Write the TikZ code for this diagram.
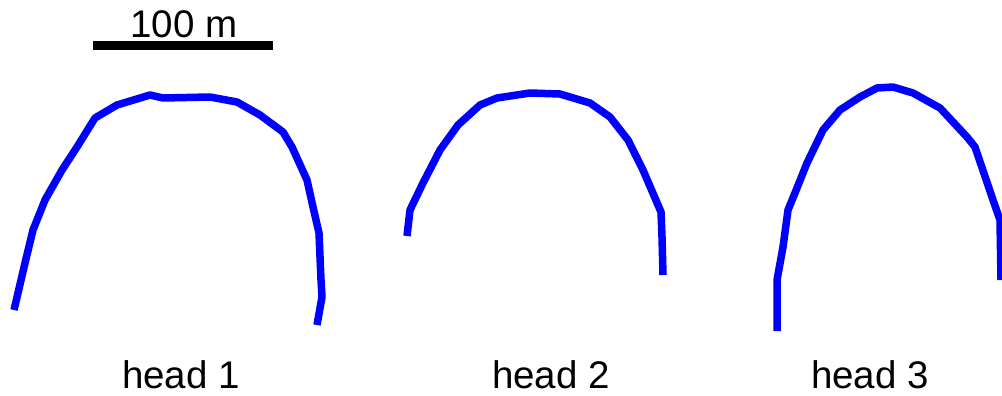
\documentclass[tikz,border=0pt]{standalone}
\usepackage{fontspec}
\setmainfont{Liberation Sans}
\definecolor{headblue}{RGB}{0,0,255}
\tikzset{
  headline/.style={draw=headblue, line width=7.5pt, line join=round},
  label/.style={font=\fontsize{38.5}{41}\selectfont, inner sep=0pt, anchor=base}
}
\begin{document}
\begin{tikzpicture}[x=1pt, y=-1pt]
\useasboundingbox (0,0) rectangle (1002,396);

% Escala
\draw[line width=9pt] (93,46) -- (273,46);
\node[label] (S) at (184,38) {100 m};

% Frentes
\draw[headline] (14,310) -- (25,263) -- (33,230) -- (45,200) -- (62,170) -- (77,147)
  -- (95,118) -- (117,105) -- (150,95) -- (163,98) -- (210,97) -- (237,102)
  -- (260,115) -- (283,132) -- (292,147) -- (307,180) -- (313,207) -- (319,233)
  -- (321,280) -- (322,297) -- (317,325);

\draw[headline] (407,236) -- (410,210) -- (423,183) -- (440,150) -- (458,125)
  -- (480,105) -- (497,98) -- (530,93) -- (560,94) -- (590,103) -- (610,117)
  -- (628,140) -- (643,170) -- (661,212) -- (662,237) -- (663,275);

\draw[headline] (777,331) -- (777,280) -- (783,247) -- (788,210) -- (797,188)
  -- (807,163) -- (823,130) -- (840,110) -- (860,97) -- (877,88) -- (893,87)
  -- (913,93) -- (940,108) -- (967,137) -- (975,147) -- (993,200) -- (1000,220)
  -- (1001,280);

% Nombres
\foreach \x [count=\i] in {181, 551, 870}
  \node[label] (H\i) at (\x,388) {head \i};
\end{tikzpicture}
\end{document}
